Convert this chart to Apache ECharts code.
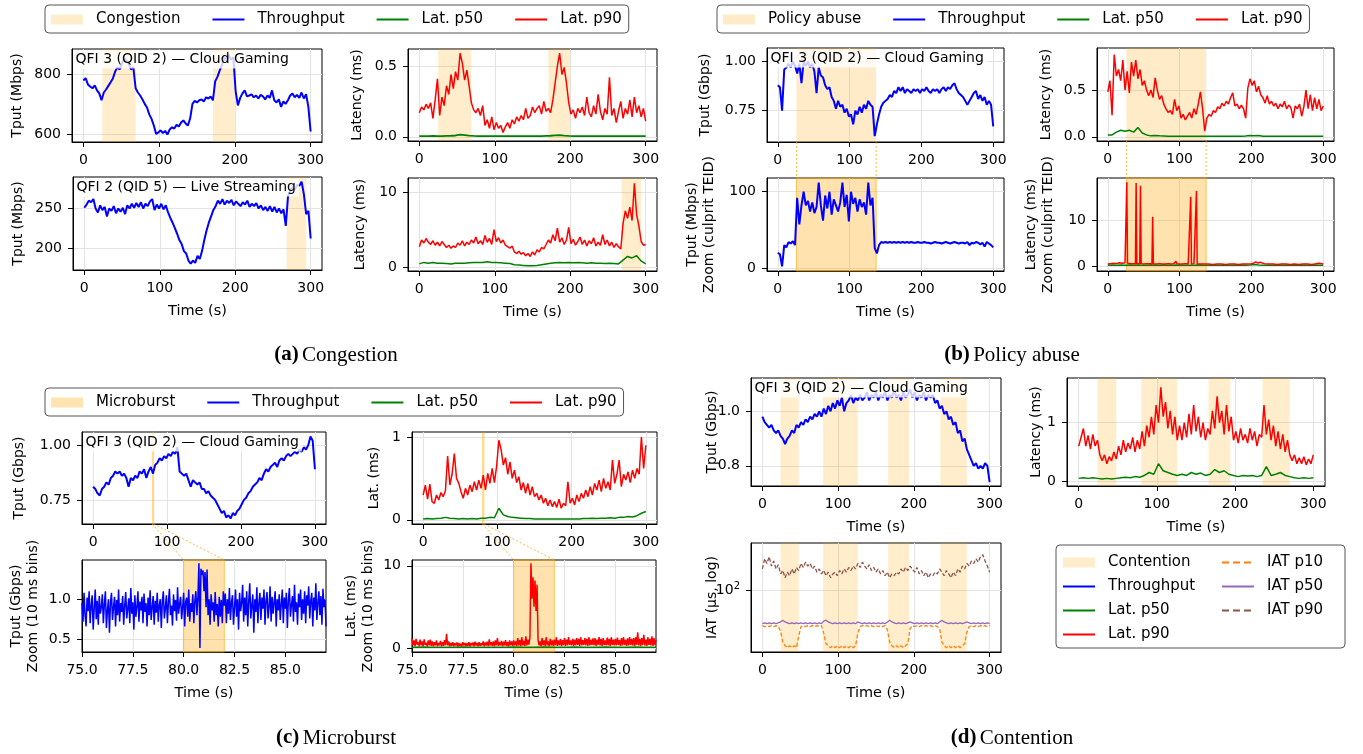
<!DOCTYPE html>
<html><head><meta charset="utf-8">
<script src="https://cdn.jsdelivr.net/npm/echarts@6/dist/echarts.min.js"></script>
<style>html,body{margin:0;padding:0;background:#fff}#c{width:1363px;height:754px}</style>
</head><body><div id="c"></div>
<script>
// ===================== DATA =====================
function seq(a, b, s) { const out = []; const n = Math.round((b - a) / s); for (let i = 0; i <= n; i++) out.push(+(a + i * s).toFixed(4)); return out; }
const timeFine = seq(0, 300, 3);      // sampling grid, s
const timeCoarse = seq(0, 300, 6);
const timeZoom = seq(75, 87, 0.05);
const timeZoomP50 = seq(75, 87, 0.5);
const timeTicks = [0, 100, 200, 300];
const zoomTicks = [75, 77.5, 80, 82.5, 85];

// (a) Congestion
const congestionBandsTop = [[25, 69], [171, 200]];
const congestionBandsBottom = [[268, 294]];
const tputCloudA = [778,786,765,758,752,762,745,735,712,738, 748,760,772,785,808,822,815,835,852,845, 832,815,822,752,738,728,715,700,688,665, 650,628,600,605,612,603,610,598,615,622, 618,630,625,638,645,635,628,652,700,710, 705,712,715,708,722,718,725,712,775,790, 812,830,855,845,862,848,855,742,695,720, 735,745,725,728,732,722,728,718,730,725, 715,728,720,745,712,705,715,690,708,700, 712,728,735,722,730,720,738,718,732,690, 608];
const latCloudAp90 = [0.17,0.21,0.19,0.23,0.2,0.24,0.13,0.26,0.41,0.15, 0.28,0.22,0.36,0.3,0.44,0.34,0.46,0.4,0.59,0.52, 0.4,0.47,0.36,0.24,0.19,0.17,0.2,0.15,0.22,0.08, 0.12,0.06,0.14,0.05,0.1,0.06,0.08,0.03,0.07,0.1, 0.06,0.12,0.09,0.14,0.11,0.15,0.12,0.2,0.13,0.15, 0.21,0.17,0.2,0.22,0.16,0.25,0.18,0.2,0.17,0.26, 0.38,0.5,0.59,0.44,0.49,0.38,0.24,0.16,0.19,0.13, 0.2,0.17,0.21,0.15,0.28,0.17,0.14,0.22,0.16,0.3, 0.18,0.12,0.2,0.16,0.42,0.15,0.2,0.1,0.18,0.25, 0.13,0.2,0.16,0.26,0.14,0.28,0.17,0.22,0.14,0.2, 0.11];
const latCloudAp50 = [0.005,0.005,0.005,0.006,0.005,0.005,0.006,0.007,0.009,0.015, 0.012,0.008,0.006,0.005,0.005,0.004,0.004,0.004,0.004,0.004, 0.004,0.004,0.004,0.005,0.005,0.005,0.005,0.005,0.006,0.007, 0.01,0.012,0.008,0.006,0.005,0.005,0.005,0.005,0.005,0.005, 0.005,0.005,0.005,0.005,0.005,0.005,0.005,0.005,0.005,0.005, 0.005];
const tputLiveA = [251,255,260,258,262,250,245,254,248,252, 240,250,247,253,244,250,246,251,243,254, 250,256,251,257,252,258,250,256,253,259, 262,248,255,250,256,249,254,245,238,232, 225,218,210,205,196,193,184,180,184,181, 190,186,196,210,222,232,240,248,253,260, 256,262,255,260,257,261,254,259,256,253, 258,255,260,252,256,253,257,250,254,248, 252,247,253,246,252,245,250,244,249,228, 266,272,278,274,280,279,284,268,243,247, 212];
const latLiveAp90 = [2.7,3.6,3.2,3.8,3.3,3.0,3.5,2.9,3.3,2.8, 3.4,3.0,2.6,2.9,2.5,2.8,2.6,3.2,2.9,3.5, 2.8,3.3,3.0,3.6,3.2,4.0,3.1,3.5,3.0,4.2, 3.3,3.8,3.0,5.0,3.4,3.9,3.2,3.6,2.9,2.7, 2.5,2.8,2.0,1.8,2.1,1.7,1.9,1.5,1.8,1.4, 2.0,1.6,2.3,2.0,2.6,2.4,3.0,3.6,3.2,4.3, 3.5,5.2,3.3,3.9,3.0,3.6,5.3,3.1,3.7,2.9, 3.4,4.0,3.0,3.6,2.8,3.5,3.1,3.9,2.8,3.3, 2.9,4.3,3.0,3.6,2.8,3.3,2.6,3.1,2.7,2.4, 5.8,7.5,6.5,8.0,6.2,11.2,7.0,5.5,3.4,2.9, 3.0];
const latLiveAp50 = [0.4,0.6,0.5,0.6,0.5,0.5,0.45,0.4,0.5,0.5, 0.5,0.55,0.6,0.6,0.6,0.7,0.6,0.6,0.55,0.5, 0.45,0.3,0.25,0.2,0.15,0.15,0.2,0.3,0.4,0.5, 0.55,0.6,0.55,0.6,0.55,0.6,0.55,0.5,0.55,0.5, 0.5,0.45,0.5,0.45,0.4,0.9,1.4,1.2,1.5,0.8, 0.4];

// (b) Policy abuse
const policyBands = [[26, 137]];
const tputCloudB = [0.88,0.87,0.75,0.96,0.97,0.99,0.97,1.0,0.98,0.94, 0.99,0.89,1.0,0.98,1.0,0.97,0.99,0.95,0.84,0.97, 0.93,0.92,0.88,0.86,0.87,0.82,0.8,0.76,0.8,0.77, 0.78,0.74,0.76,0.72,0.73,0.68,0.75,0.73,0.77,0.74, 0.78,0.76,0.8,0.78,0.77,0.62,0.68,0.73,0.77,0.79, 0.8,0.81,0.83,0.82,0.85,0.84,0.87,0.85,0.87,0.84, 0.86,0.85,0.84,0.86,0.85,0.86,0.84,0.86,0.85,0.87, 0.85,0.84,0.86,0.85,0.86,0.84,0.86,0.87,0.85,0.87, 0.86,0.88,0.89,0.86,0.84,0.83,0.82,0.8,0.78,0.8, 0.82,0.84,0.85,0.81,0.83,0.8,0.82,0.78,0.8,0.78, 0.67];
const latCloudBp90 = [0.48,0.6,0.23,0.88,0.65,0.72,0.6,0.82,0.5,0.7, 0.47,0.8,0.65,0.82,0.62,0.72,0.55,0.6,0.5,0.44, 0.5,0.42,0.63,0.5,0.4,0.44,0.35,0.3,0.26,0.28, 0.24,0.4,0.28,0.33,0.2,0.24,0.18,0.22,0.26,0.2, 0.3,0.24,0.35,0.48,0.3,0.06,0.2,0.24,0.22,0.28, 0.26,0.32,0.3,0.36,0.33,0.38,0.35,0.42,0.47,0.33, 0.35,0.3,0.34,0.3,0.2,0.52,0.62,0.55,0.6,0.48, 0.54,0.45,0.42,0.36,0.44,0.35,0.38,0.33,0.36,0.3, 0.35,0.32,0.38,0.3,0.34,0.31,0.2,0.33,0.3,0.35, 0.22,0.32,0.5,0.3,0.45,0.28,0.42,0.3,0.4,0.28, 0.33];
const latCloudBp50 = [0.02,0.02,0.05,0.07,0.06,0.07,0.05,0.1,0.04,0.02, 0.01,0.015,0.01,0.008,0.006,0.006,0.005,0.005,0.005,0.005, 0.005,0.005,0.005,0.005,0.005,0.005,0.005,0.005,0.005,0.005, 0.005,0.006,0.008,0.015,0.01,0.015,0.006,0.005,0.005,0.005, 0.005,0.005,0.005,0.005,0.005,0.005,0.005,0.005,0.005,0.005, 0.005];
const tputCulprit = [20,18,2,30,27,34,32,35,30,92, 57,82,100,82,88,74,86,72,80,112, 82,62,95,78,100,70,90,82,74,86, 112,80,96,61,100,84,92,74,90,80, 86,70,112,82,92,26,19,30,34,33, 34,33,34,33,34,33,34,33,34,33, 34,33,34,33,33,34,33,33,34,33, 33,32,33,34,33,33,32,33,34,33, 32,33,34,33,32,33,33,32,34,30, 33,32,34,33,31,33,28,34,32,30, 27];
const timeCulpritLat = [0,4,8,12,16,20,24, 25.5,26.5,27.5, 31,35, 38.5,39.5,40.5, 44.5,45.5,46.5, 50,54,58, 61.5,62.5,63.5, 68,72,76,80,84,88,92, 94,95,96, 100,104,108,112, 114.5,115.5,116.5, 120, 122.5,123.5,124.5, 128,132,136,140, 146,152,158,164,170,176,182,188,194, 200,203,206,209,212, 218,224,230,236,242,248,254,260,266,272,278,284, 288,294,300];
const latCulpritP90 = [0.4,0.5,0.6,0.5,0.7,0.6,0.7, 0.6,18.2,0.6, 0.5,0.5, 0.5,18.0,0.5, 0.5,17.4,0.5, 0.4,0.5,0.5, 0.4,10.7,0.4, 0.4,0.5,0.4,0.4,0.5,0.4,0.5, 0.6,1.0,0.5, 0.4,0.4,0.5,0.4, 0.4,15.0,0.4, 0.5, 0.4,16.3,0.4, 0.4,0.4,0.4,0.4, 0.3,0.4,0.4,0.3,0.4,0.4,0.3,0.4,0.4, 0.5,0.6,0.9,0.6,0.8, 0.5,0.4,0.4,0.3,0.4,0.4,0.3,0.4,0.3,0.4,0.4,0.3, 0.4,0.6,0.4];
const latCulpritP50 = [0.15,0.2,0.15,0.2,0.15,0.2,0.15,0.2,0.15,0.15, 0.2,0.15,0.15,0.2,0.15,0.15,0.2,0.15,0.15,0.15, 0.15,0.2,0.15,0.15,0.15,0.15,0.15,0.15,0.15,0.15, 0.15,0.15,0.15,0.2,0.3,0.2,0.15,0.15,0.15,0.15, 0.15,0.15,0.15,0.15,0.15,0.15,0.15,0.15,0.2,0.15, 0.15];

// (c) Microburst
const microburstBands = [[80, 82]];
const tputCloudC = [0.81,0.8,0.78,0.77,0.8,0.81,0.83,0.82,0.85,0.86, 0.88,0.87,0.88,0.86,0.87,0.85,0.81,0.85,0.84,0.86, 0.85,0.88,0.87,0.89,0.85,0.88,0.9,0.87,0.91,0.92, 0.94,0.93,0.95,0.94,0.96,0.95,0.97,0.96,0.99,0.88, 0.87,0.86,0.87,0.84,0.81,0.84,0.83,0.82,0.83,0.8, 0.8,0.78,0.79,0.77,0.76,0.75,0.73,0.71,0.69,0.7, 0.67,0.68,0.665,0.69,0.68,0.7,0.71,0.73,0.75,0.76, 0.78,0.79,0.81,0.82,0.83,0.85,0.84,0.87,0.89,0.88, 0.9,0.91,0.92,0.9,0.93,0.94,0.93,0.95,0.96,0.95, 0.96,0.97,0.96,0.98,0.97,0.99,0.98,1.0,1.04,1.02, 0.89];
const latCloudCp90 = [0.3,0.42,0.25,0.43,0.22,0.2,0.3,0.24,0.33,0.28, 0.35,0.77,0.42,0.55,0.8,0.5,0.44,0.34,0.26,0.38, 0.3,0.42,0.34,0.46,0.36,0.48,0.38,0.54,0.36,0.56, 0.44,0.62,0.45,0.65,0.96,0.85,0.66,0.75,0.55,0.7, 0.5,0.6,0.45,0.52,0.36,0.45,0.32,0.44,0.3,0.4, 0.28,0.32,0.24,0.3,0.2,0.26,0.17,0.24,0.16,0.22, 0.15,0.25,0.14,0.2,0.17,0.46,0.2,0.26,0.18,0.3, 0.22,0.32,0.26,0.36,0.28,0.4,0.3,0.44,0.36,0.48, 0.34,0.5,0.38,0.46,0.36,0.72,0.44,0.55,0.72,0.4, 0.55,0.48,0.58,0.45,0.6,0.5,0.62,0.55,1.0,0.62, 0.9];
const latCloudCp50 = [0.01,0.015,0.01,0.015,0.02,0.03,0.02,0.015,0.01,0.015, 0.01,0.015,0.01,0.02,0.02,0.03,0.025,0.14,0.06,0.04, 0.03,0.025,0.02,0.015,0.015,0.01,0.01,0.01,0.01,0.01, 0.01,0.01,0.01,0.01,0.01,0.01,0.015,0.015,0.02,0.015, 0.02,0.02,0.025,0.02,0.03,0.03,0.04,0.035,0.05,0.08, 0.1];
const tputZoomBins = [
  0.95,0.72,1.08,0.8,0.66,1.02,0.85,1.1,0.7,0.92,1.05,0.62,0.88,1.12,0.75,0.98,0.68,1.04,0.82,0.9,
  1.06,0.7,0.94,1.1,0.64,0.86,1.0,0.58,0.96,1.08,0.74,0.9,1.03,0.66,0.99,0.8,1.12,0.72,0.95,0.84,
  1.04,0.68,0.92,1.09,0.76,0.88,1.01,0.7,1.14,0.82,0.96,0.62,1.05,0.78,0.9,1.1,0.72,0.97,0.86,1.03,
  0.7,1.07,0.84,0.95,0.66,1.02,0.8,1.11,0.74,0.9,1.04,0.68,0.98,0.83,1.08,0.72,0.93,1.0,0.64,0.97,
  1.1,0.76,0.89,1.05,0.7,0.96,1.13,0.8,0.92,0.67,1.06,0.85,0.99,0.73,1.15,0.82,0.94,1.03,0.75,0.9,
  1.08,0.66,0.97,1.02,0.78,1.12,0.72,0.95,0.84,1.06,0.7,0.98,1.1,0.8,1.02,1.45,0.39,1.38,1.3,1.36,
  1.1,1.34,0.9,1.37,0.8,1.0,0.68,1.06,0.86,0.96,0.72,1.09,0.8,0.94,0.66,1.03,0.78,0.99,0.7,1.1,
  0.92,1.07,0.7,1.0,0.82,1.14,0.74,0.96,1.05,0.68,0.9,1.12,0.78,1.0,0.62,1.08,0.85,0.95,1.18,0.72,
  1.02,0.8,1.1,0.66,0.97,1.2,0.76,0.92,1.06,0.58,1.0,0.84,1.15,0.7,0.95,1.08,0.74,1.02,0.88,1.12,
  0.68,0.98,1.09,0.76,0.9,1.16,0.72,1.03,0.82,0.96,1.1,0.66,1.0,0.86,1.06,0.74,0.94,1.12,0.7,1.02,
  0.88,1.08,0.64,0.99,1.14,0.78,0.93,1.04,0.72,1.18,0.84,0.96,0.68,1.07,0.9,1.12,0.74,1.0,0.82,1.1,
  0.7,1.05,0.92,1.16,0.76,0.98,1.08,0.66,1.02,0.86,1.2,0.74,0.95,1.1,0.8,1.04,0.68,1.13,0.9,1.0,
  0.66];
const latZoomBinsP90 = [
  1.2,0.3,0.9,0.2,1.1,0.4,0.7,0.25,1.0,0.3,0.8,0.2,1.05,0.35,0.6,0.2,0.9,0.3,1.0,0.25,
  0.8,0.2,0.7,0.3,0.9,0.2,0.6,0.3,0.85,0.2,0.7,0.25,0.95,0.3,1.7,0.3,0.8,0.2,0.6,0.25,
  0.7,0.2,0.55,0.3,0.65,0.15,0.6,0.25,0.5,0.2,0.7,0.3,0.6,0.2,0.55,0.25,0.7,0.2,0.6,0.3,
  0.65,0.2,0.75,0.3,0.6,0.2,0.7,0.25,0.55,0.3,0.8,0.2,0.65,0.3,0.75,0.2,1.05,0.3,0.7,0.25,
  0.8,0.2,0.9,0.3,1.2,0.25,0.7,0.3,0.85,0.2,0.75,0.3,0.95,0.25,0.7,0.2,0.9,0.3,0.8,0.25,
  0.9,0.3,0.8,0.25,1.2,0.3,0.95,0.2,1.3,0.3,0.85,0.25,1.4,0.3,1.0,0.4,1.3,10.3,6.0,8.6,
  5.0,8.2,4.5,7.7,1.0,0.3,0.8,0.2,1.2,0.3,0.9,0.25,1.3,0.3,0.8,0.2,1.1,0.3,0.9,0.25,
  1.0,0.3,1.3,0.25,0.9,0.3,1.1,0.2,0.95,0.3,1.2,0.25,1.0,0.3,1.3,0.35,0.9,0.3,1.1,0.25,
  1.0,0.3,1.2,0.35,1.1,0.25,1.3,0.3,0.95,0.35,1.2,0.3,1.1,0.25,1.3,0.3,1.0,0.35,1.15,0.3,
  1.2,0.25,1.0,0.35,1.3,0.3,1.1,0.25,1.2,0.35,0.9,0.3,1.25,0.3,1.1,0.25,1.3,0.35,1.0,0.3,
  1.1,0.3,1.25,0.35,0.95,0.25,1.2,0.3,1.3,0.35,1.0,0.25,1.15,0.3,1.3,0.35,1.1,0.3,1.2,0.25,
  1.3,0.35,1.9,0.3,1.1,0.25,1.2,0.35,1.6,0.3,1.0,0.25,1.3,0.35,1.1,0.3,1.4,0.25,1.2,0.35,
  1.0];
const latZoomBinsP50 = [0.08,0.1,0.07,0.09,0.08,0.1,0.07,0.08,0.09,0.07,0.1,0.08,0.09,0.1,0.08,0.09,0.1,0.08,0.09,0.1,0.08,0.09,0.1,0.08,0.09];

// (d) Contention
const contentionBands = [[24, 48], [80, 126], [166, 194], [235, 270]];
const tputCloudD = [0.98,0.96,0.95,0.94,0.95,0.93,0.92,0.93,0.91,0.9, 0.88,0.9,0.91,0.93,0.92,0.95,0.94,0.96,0.95,0.97, 0.96,0.98,0.97,0.99,0.98,1.0,0.98,1.01,0.99,1.02, 1.0,1.03,1.01,1.04,1.02,1.05,1.0,1.03,1.04,1.06, 1.03,1.05,1.04,1.06,1.04,1.05,1.07,1.04,1.06,1.05, 1.07,1.04,1.06,1.05,1.07,1.04,1.06,1.05,1.08,1.05, 1.06,1.04,1.07,1.05,1.06,1.08,1.05,1.07,1.04,1.06, 1.05,1.07,1.04,1.06,1.05,1.06,1.03,1.04,1.01,1.02, 0.99,1.0,0.97,0.98,0.95,0.96,0.92,0.93,0.89,0.9, 0.86,0.84,0.82,0.8,0.81,0.79,0.8,0.79,0.81,0.8, 0.74];
const latCloudDp90 = [0.6,0.75,0.9,0.6,0.78,0.55,0.8,0.6,0.7,0.45, 0.35,0.45,0.3,0.42,0.35,0.5,0.38,0.6,0.45,0.7, 0.5,0.65,0.55,0.75,0.5,0.7,0.55,0.85,0.6,0.95, 0.75,1.1,0.8,1.3,1.0,1.6,1.1,1.35,0.9,1.2, 0.8,1.1,0.7,0.95,0.7,1.0,0.75,1.15,0.8,1.3, 0.85,1.1,0.75,1.0,0.7,0.9,0.8,1.2,0.9,1.45, 1.0,1.2,0.8,1.3,0.85,1.1,0.7,0.85,0.65,0.9, 0.7,0.8,0.65,0.9,0.7,0.85,0.6,0.8,0.75,1.3, 0.8,1.05,0.7,0.95,0.6,0.85,0.55,0.8,0.5,0.7, 0.45,0.35,0.45,0.3,0.4,0.3,0.42,0.28,0.38,0.3, 0.45];
const latCloudDp50 = [0.05,0.06,0.05,0.06,0.05,0.04,0.05,0.04,0.05,0.06, 0.07,0.06,0.08,0.07,0.1,0.15,0.12,0.3,0.18,0.15, 0.12,0.1,0.12,0.1,0.15,0.12,0.14,0.1,0.12,0.2, 0.15,0.18,0.12,0.1,0.08,0.1,0.09,0.1,0.08,0.1, 0.25,0.1,0.12,0.15,0.1,0.08,0.06,0.05,0.06,0.05, 0.06];
const iatP10 = [31,30,31,30,31,30,31,30,26,18, 16,15,16,15,16,15,22,30,31,30, 31,30,31,30,31,30,31,24,17,16, 15,16,15,16,15,16,15,16,15,16, 15,16,24,30,31,30,31,30,31,30, 31,30,31,30,31,27,18,16,15,16, 15,16,15,16,17,28,31,30,31,30, 31,30,31,30,31,30,31,30,28,18, 16,15,16,15,16,15,16,15,16,17, 25,30,31,30,31,30,31,30,31,30, 31];
const iatP50 = [33,34,33,34,33,34,33,34,35,37, 35,34,33,34,33,34,33,34,33,34, 33,34,33,34,33,34,33,36,37,35, 34,33,34,33,34,33,34,33,34,33, 34,33,35,34,33,34,33,34,33,34, 33,34,33,34,33,35,37,35,34,33, 34,33,34,33,34,35,34,33,34,33, 34,33,34,33,34,33,34,33,35,37, 35,34,33,34,33,34,33,34,33,34, 35,34,33,34,33,34,33,34,33,34, 33];
const iatP90 = [200,280,240,300,220,260,200,230,170,190, 150,180,160,200,170,210,190,240,210,250, 220,240,200,220,180,200,170,190,160,180, 150,170,180,160,190,170,200,180,210,190, 220,200,240,210,250,220,200,230,190,210, 180,200,170,190,160,180,150,170,160,180, 170,200,180,210,190,220,200,180,210,170, 190,160,180,150,170,160,180,170,200,180, 160,190,170,150,180,160,200,180,220,200, 240,220,260,240,280,250,300,320,260,220, 180];

// ===================== LAYOUT / STYLE =====================
const FONT = 'DejaVu Sans';
const BLUE = '#0000ff', GREEN = '#008000', RED = '#ff0000';
const ORANGE = '#ff7f0e', PURPLE = '#9467bd', BROWN = '#8c564b';
const band = a => `rgba(255,165,0,${a})`;
const T = timeTicks, Z = zoomTicks;
const panels = [
  {rect:[72,49,250,93],   x:[-15,315], xt:T, y:[573,883],    yt:[600,800], yd:0, yName:'Tput (Mbps)', yGap:46},
  {rect:[408,49,249,92],  x:[-15,315], xt:T, y:[-0.03,0.62], yt:[0,0.5],   yd:1, yName:'Latency (ms)', yGap:42},
  {rect:[73,177,249,93],  x:[-15,315], xt:T, y:[172,290],    yt:[200,250], yd:0, yName:'Tput (Mbps)', yGap:46, xName:true},
  {rect:[408,178,249,93], x:[-15,315], xt:T, y:[-0.55,11.9], yt:[0,10],    yd:0, yName:'Latency (ms)', yGap:39, xName:true},
  {rect:[767,48,237,94],  x:[-15,315], xt:T, y:[0.59,1.07],  yt:[0.75,1.0],yd:2, yName:'Tput (Gbps)', yGap:53},
  {rect:[1097,48,237,93], x:[-15,315], xt:T, y:[-0.045,0.95],yt:[0,0.5],   yd:1, yName:'Latency (ms)', yGap:42},
  {rect:[767,178,237,93], x:[-15,315], xt:T, y:[-4,118],     yt:[0,100],   yd:0, yName:'Tput (Mbps)\nZoom (culprit TEID)', yGap:49, xName:true},
  {rect:[1097,178,237,93],x:[-15,315], xt:T, y:[-1.1,19.1],  yt:[0,10],    yd:0, yName:'Latency (ms)\nZoom (culprit TEID)', yGap:40, xName:true},
  {rect:[82,432,244,92],  x:[-15,315], xt:T, y:[0.64,1.06],  yt:[0.75,1.0],yd:2, yName:'Tput (Gbps)', yGap:54},
  {rect:[412,432,245,92], x:[-15,315], xt:T, y:[-0.05,1.06], yt:[0,1],     yd:0, yName:'Lat. (ms)', yGap:29},
  {rect:[82,560,244,92],  x:[75,87], xt:Z, xd:1, y:[0.34,1.49], yt:[0.5,1.0], yd:1, yName:'Tput (Gbps)\nZoom (10 ms bins)', yGap:40, xName:true},
  {rect:[412,560,244,92], x:[75,87], xt:Z, xd:1, y:[-0.5,10.7], yt:[0,10],    yd:0, yName:'Lat. (ms)\nZoom (10 ms bins)', yGap:35, xName:true},
  {rect:[751,378,250,108],x:[-15,315], xt:T, y:[0.726,1.122],yt:[0.8,1.0], yd:1, yName:'Tput (Gbps)', yGap:30, xName:true},
  {rect:[1067,378,258,108],x:[-15,315],xt:T, y:[-0.08,1.76], yt:[0,1],     yd:0, yName:'Latency (ms)', yGap:22, xName:true},
  {rect:[751,543,250,109],x:[-15,315], xt:T, y:[13,470], log:true, yt:[100], yName:'IAT (µs, log)', yGap:30, xName:true},
];
const grid = [], xAxis = [], yAxis = [];
const tickFont = {fontFamily: FONT, fontSize: 14, color: '#000'};
panels.forEach((p, i) => {
  grid.push({left:p.rect[0], top:p.rect[1], width:p.rect[2], height:p.rect[3], show:true,
    borderColor:'#000', borderWidth:1, backgroundColor:'transparent', containLabel:false, outerBoundsMode:'none'});
  xAxis.push({gridIndex:i, type:'value', min:p.x[0], max:p.x[1],
    axisLine:{show:true, onZero:false, lineStyle:{color:'#000', width:1}},
    axisTick:{show:true, length:5, customValues:p.xt, lineStyle:{color:'#000'}},
    axisLabel:{customValues:p.xt, margin:11, formatter:v => (+v).toFixed(p.xd || 0), ...tickFont},
    splitLine:{show:true, lineStyle:{color:'#e3e3e3', width:1}},
    name: p.xName ? 'Time (s)' : '', nameLocation:'middle', nameGap:34, nameMoveOverlap:false,
    nameTextStyle:{fontFamily:FONT, fontSize:14.5, color:'#000'}});
  const ya = {gridIndex:i, type: p.log ? 'log' : 'value', min:p.y[0], max:p.y[1],
    axisLine:{show:true, onZero:false, lineStyle:{color:'#000', width:1}},
    axisTick:{show:true, length:5, customValues:p.yt, lineStyle:{color:'#000'}},
    axisLabel:{customValues:p.yt, margin:11, formatter:v => (+v).toFixed(p.yd || 0), ...tickFont},
    splitLine:{show:true, lineStyle:{color:'#e3e3e3', width:1}},
    name:p.yName, nameLocation:'middle', nameGap:p.yGap, nameRotate:90, nameMoveOverlap:false,
    nameTextStyle:{fontFamily:FONT, fontSize:14, color:'#000', lineHeight:17}};
  if (p.log) {
    ya.logBase = 10;
    ya.axisLabel.formatter = v => '{n|10}{s|2}';
    ya.axisLabel.rich = {n:{fontFamily:FONT, fontSize:14, color:'#000'}, s:{fontFamily:FONT, fontSize:10, color:'#000', verticalAlign:'top', padding:[0,0,8,0]}};
  }
  yAxis.push(ya);
});

function zip(ts, vs) { const n = Math.min(ts.length, vs.length); const o = []; for (let i = 0; i < n; i++) o.push([ts[i], vs[i]]); return o; }
const series = [];
function addBand(name, gi, bands, alpha, edge) {
  series.push({type:'line', name, xAxisIndex:gi, yAxisIndex:gi, data:[], symbol:'none', z:1,
    itemStyle:{color:band(alpha)}, lineStyle:{color:band(alpha)},
    markArea:{silent:true, itemStyle:{color:band(alpha), borderColor: edge ? band(edge) : 'transparent', borderWidth: edge ? 1 : 0},
      data: bands.map(b => [{xAxis:b[0]}, {xAxis:b[1]}])}});
}
function addLine(name, gi, ts, vs, color, width, dashed) {
  series.push({type:'line', name, xAxisIndex:gi, yAxisIndex:gi, data:zip(ts, vs), symbol:'none', showSymbol:false, z:3,
    itemStyle:{color}, lineStyle:{color, width, type: dashed ? [4, 2] : 'solid'}});
}
// (a)
addBand('Congestion', 0, congestionBandsTop, 0.2);
addBand('Congestion', 1, congestionBandsTop, 0.2);
addBand('Congestion', 2, congestionBandsBottom, 0.2);
addBand('Congestion', 3, congestionBandsBottom, 0.2);
addLine('Throughput', 0, timeFine, tputCloudA, BLUE, 2);
addLine('Lat. p50', 1, timeCoarse, latCloudAp50, GREEN, 1.8);
addLine('Lat. p90', 1, timeFine, latCloudAp90, RED, 1.5);
addLine('Throughput', 2, timeFine, tputLiveA, BLUE, 2);
addLine('Lat. p50', 3, timeCoarse, latLiveAp50, GREEN, 1.5);
addLine('Lat. p90', 3, timeFine, latLiveAp90, RED, 1.5);
// (b)
addBand('Policy abuse', 4, policyBands, 0.22);
addBand('Policy abuse', 5, policyBands, 0.22);
addBand('Policy abuse', 6, policyBands, 0.32, 0.6);
addBand('Policy abuse', 7, policyBands, 0.32, 0.6);
addLine('Throughput', 4, timeFine, tputCloudB, BLUE, 2);
addLine('Lat. p50', 5, timeCoarse, latCloudBp50, GREEN, 1.5);
addLine('Lat. p90', 5, timeFine, latCloudBp90, RED, 1.5);
addLine('Throughput', 6, timeFine, tputCulprit, BLUE, 2);
addLine('Lat. p50', 7, timeCoarse, latCulpritP50, GREEN, 1.5);
addLine('Lat. p90', 7, timeCulpritLat, latCulpritP90, RED, 1.5);
// (c)
addBand('Microburst', 8, microburstBands, 0.3, 0.35);
addBand('Microburst', 9, microburstBands, 0.3, 0.35);
addBand('Microburst', 10, microburstBands, 0.32, 0.6);
addBand('Microburst', 11, microburstBands, 0.32, 0.6);
addLine('Throughput', 8, timeFine, tputCloudC, BLUE, 2);
addLine('Lat. p50', 9, timeCoarse, latCloudCp50, GREEN, 1.5);
addLine('Lat. p90', 9, timeFine, latCloudCp90, RED, 1.5);
addLine('Throughput', 10, timeZoom, tputZoomBins, BLUE, 1.5);
addLine('Lat. p50', 11, timeZoomP50, latZoomBinsP50, GREEN, 1.5);
addLine('Lat. p90', 11, timeZoom, latZoomBinsP90, RED, 1.5);
// (d)
addBand('Contention', 12, contentionBands, 0.2);
addBand('Contention', 13, contentionBands, 0.2);
addBand('Contention', 14, contentionBands, 0.2);
addLine('Throughput', 12, timeFine, tputCloudD, BLUE, 2);
addLine('Lat. p50', 13, timeCoarse, latCloudDp50, GREEN, 1.5);
addLine('Lat. p90', 13, timeFine, latCloudDp90, RED, 1.5);
addLine('IAT p10', 14, timeFine, iatP10, ORANGE, 1.3, true);
addLine('IAT p50', 14, timeFine, iatP50, PURPLE, 1.3);
addLine('IAT p90', 14, timeFine, iatP90, BROWN, 1.3, true);

const ICON_LINE = 'path://M0,0M32,10M0,4L32,4L32,6L0,6Z';
const ICON_DASH = 'path://M0,0M32,10M0,4L7,4L7,6L0,6ZM11,4L18,4L18,6L11,6ZM22,4L29,4L29,6L22,6Z';
function legendH(left, top, first) {
  return {left, top, orient:'horizontal', padding:[7,7,6,6], itemGap:32, itemWidth:32, itemHeight:10,
    borderColor:'#555', borderWidth:1, borderRadius:4, backgroundColor:'#fff', selectedMode:false,
    itemStyle:{borderWidth:0},
    textStyle:{fontFamily:FONT, fontSize:15, color:'#000', padding:[0,0,0,8]},
    data:[{name:first, icon:'rect'}, {name:'Throughput', icon:ICON_LINE}, {name:'Lat. p50', icon:ICON_LINE}, {name:'Lat. p90', icon:ICON_LINE}]};
}
function legendV(left, top, items) {
  return {left, top, orient:'vertical', padding:0, itemGap:9, itemWidth:32, itemHeight:10, selectedMode:false,
    itemStyle:{borderWidth:0},
    textStyle:{fontFamily:FONT, fontSize:15, color:'#000', padding:[0,0,0,8]}, data:items};
}
const legend = [
  legendH(45, 5, 'Congestion'),
  legendH(717, 5, 'Policy abuse'),
  legendH(45, 388, 'Microburst'),
  legendV(1063, 555, [{name:'Contention', icon:'rect'}, {name:'Throughput', icon:ICON_LINE}, {name:'Lat. p50', icon:ICON_LINE}, {name:'Lat. p90', icon:ICON_LINE}]),
  legendV(1222, 555, [{name:'IAT p10', icon:ICON_DASH}, {name:'IAT p50', icon:ICON_LINE}, {name:'IAT p90', icon:ICON_DASH}]),
];

const chart = echarts.init(document.getElementById('c'));
chart.setOption({animation:false, backgroundColor:'#fff', grid, xAxis, yAxis, series, legend});

// ===== decorations: in-panel titles, captions, connectors =====
const graphic = [];
const inTitles = [[0,'QFI 3 (QID 2) — Cloud Gaming'], [2,'QFI 2 (QID 5) — Live Streaming'], [4,'QFI 3 (QID 2) — Cloud Gaming'], [8,'QFI 3 (QID 2) — Cloud Gaming'], [12,'QFI 3 (QID 2) — Cloud Gaming']];
inTitles.forEach(([gi, txt]) => {
  const r = panels[gi].rect;
  graphic.push({type:'text', x:r[0] + 1.5, y:r[1] + 1.5, z:50,
    style:{text:txt, font:`14px "${FONT}"`, fill:'#000', backgroundColor:'rgba(255,255,255,0.8)', padding:[2,3,2,2]}});
});
const captions = [['(a)', 'Congestion', 336, 355], ['(b)', 'Policy abuse', 1012, 355], ['(c)', 'Microburst', 336, 738], ['(d)', 'Contention', 1012, 738]];
captions.forEach(([lab, txt, x, y]) => {
  graphic.push({type:'text', x, y, z:50, style:{text:`{b|${lab}} {r|${txt}}`, align:'center', verticalAlign:'middle',
    rich:{b:{fontFamily:'Liberation Serif', fontSize:21, fontWeight:'bold', fill:'#000'}, r:{fontFamily:'Liberation Serif', fontSize:21, fill:'#000'}}}});
});
graphic.push({type:'rect', z:0, shape:{x:1056, y:545, width:289, height:103, r:4}, style:{fill:'#fff', stroke:'#555', lineWidth:1}});
function px(gi, x, y) { return chart.convertToPixel({xAxisIndex:gi, yAxisIndex:gi}, [x, y]); }
function connect(gTop, gBot, edges) {
  edges.forEach(e => {
    const a = px(gTop, e, panels[gTop].y[0]);
    const b = px(gBot, e, panels[gBot].y[1]);
    graphic.push({type:'line', z:40, shape:{x1:a[0], y1:a[1], x2:b[0], y2:b[1]}, style:{stroke:'rgba(255,165,0,0.75)', lineWidth:1, lineDash:[2,2]}});
  });
}
connect(4, 6, policyBands[0]);
connect(5, 7, policyBands[0]);
connect(8, 10, microburstBands[0]);
connect(9, 11, microburstBands[0]);
chart.setOption({graphic});
</script></body></html>
